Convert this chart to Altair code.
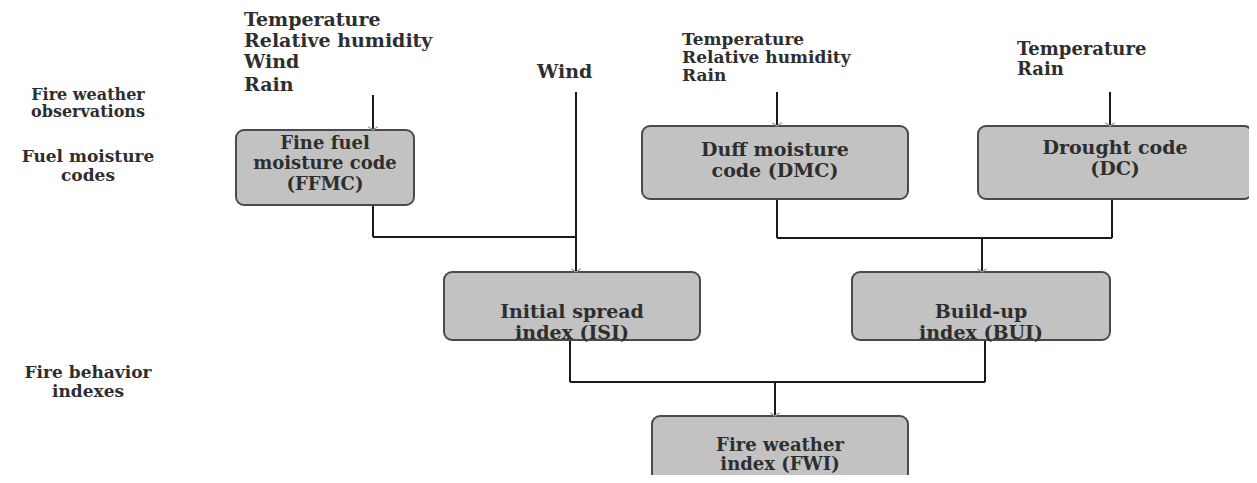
import altair as alt
import pandas as pd

# ---- boxes ----
box_id = ["FFMC", "DMC", "DC", "ISI", "BUI", "FWI"]
box_x1 = [236, 642, 978, 444, 852, 652]
box_x2 = [414, 908, 1252, 700, 1110, 908]
box_y1 = [130, 126, 126, 272, 272, 416]
box_y2 = [205, 199, 199, 340, 340, 492]

# ---- text inside boxes (one row per line) ----
lbl_text = [
    "Fine fuel", "moisture code", "(FFMC)",
    "Duff moisture", "code (DMC)",
    "Drought code", "(DC)",
    "Initial spread", "index (ISI)",
    "Build-up", "index (BUI)",
    "Fire weather", "index (FWI)",
]
lbl_x = [325, 325, 325, 775, 775, 1115, 1115, 572, 572, 981, 981, 780, 780]
lbl_y = [144, 164, 185, 150, 171, 148, 169, 312, 333, 312, 333, 446, 465]
lbl_size = [18, 18, 18, 19, 19, 19, 19, 19, 19, 19, 19, 18, 18]

# ---- input variables (left aligned) ----
in_text = ["Temperature", "Relative humidity", "Wind", "Rain",
           "Wind",
           "Temperature", "Relative humidity", "Rain",
           "Temperature", "Rain"]
in_x = [244, 244, 244, 244, 537, 682, 682, 682, 1017, 1017]
in_y = [20, 41, 62, 85, 72, 40, 58, 76, 50, 70]
in_size = [19, 19, 19, 19, 19, 17, 17, 17, 18, 18]

# ---- row headings on the left ----
side_text = ["Fire weather", "observations", "Fuel moisture", "codes",
             "Fire behavior", "indexes"]
side_x = [88, 88, 88, 88, 88, 88]
side_y = [95, 112, 157, 176, 373, 392]
side_size = [16, 16, 17, 17, 17, 17]

# ---- connector segments ----
seg_x1 = [373, 576, 373, 373, 777, 1110, 777, 1112, 777, 982, 570, 985, 570, 775]
seg_y1 = [95, 92, 205, 237, 92, 92, 199, 199, 238, 238, 340, 340, 382, 382]
seg_x2 = [373, 576, 373, 576, 777, 1110, 777, 1112, 1112, 982, 570, 985, 985, 775]
seg_y2 = [130, 272, 237, 237, 126, 126, 238, 238, 238, 272, 382, 382, 382, 416]

# ---- arrow tips ----
arr_x = [373, 576, 777, 1110, 982, 775]
arr_y = [130, 272, 126, 126, 272, 416]

boxes = pd.DataFrame({"id": box_id, "x1": box_x1, "x2": box_x2, "y1": box_y1, "y2": box_y2})
labels = pd.DataFrame({"t": lbl_text, "x": lbl_x, "y": lbl_y, "s": lbl_size})
inputs = pd.DataFrame({"t": in_text, "x": in_x, "y": in_y, "s": in_size})
sides = pd.DataFrame({"t": side_text, "x": side_x, "y": side_y, "s": side_size})
segs = pd.DataFrame({"x1": seg_x1, "y1": seg_y1, "x2": seg_x2, "y2": seg_y2})
arrows = pd.DataFrame({"x": arr_x, "y": arr_y})

W, H = 1241, 467
xs = alt.Scale(domain=[8, 8 + W], nice=False, zero=False)
ys = alt.Scale(domain=[8, 8 + H], nice=False, zero=False, reverse=True)
FONT = "DejaVu Serif"
TXT = "#2e2e2e"

rects = alt.Chart(boxes).mark_rect(
    cornerRadius=8, fill="#c2c2c2", stroke="#4a4a4a", strokeWidth=2
).encode(
    x=alt.X("x1:Q", scale=xs, axis=None), x2="x2:Q",
    y=alt.Y("y1:Q", scale=ys, axis=None), y2="y2:Q",
)

rules = alt.Chart(segs).mark_rule(color="#1a1a1a", strokeWidth=2).encode(
    x=alt.X("x1:Q", scale=xs, axis=None), x2="x2:Q",
    y=alt.Y("y1:Q", scale=ys, axis=None), y2="y2:Q",
)

heads = alt.Chart(arrows).mark_point(
    shape="M -1 -0.7 L 0 0 L 1 -0.7", filled=False, stroke="#9a9a9a",
    strokeWidth=1.2, size=90, opacity=1
).encode(
    x=alt.X("x:Q", scale=xs, axis=None),
    y=alt.Y("y:Q", scale=ys, axis=None),
)


def text_layer(df, align):
    return alt.Chart(df).mark_text(
        font=FONT, fontWeight="bold", color=TXT, align=align, baseline="middle"
    ).encode(
        x=alt.X("x:Q", scale=xs, axis=None),
        y=alt.Y("y:Q", scale=ys, axis=None),
        text="t:N",
        size=alt.Size("s:Q", scale=None, legend=None),
    )


chart = alt.layer(
    rules, rects, heads,
    text_layer(labels, "center"),
    text_layer(inputs, "left"),
    text_layer(sides, "center"),
).properties(
    width=W, height=H, padding=0,
    autosize=alt.AutoSizeParams(type="none"),
    background="white",
).configure_view(strokeWidth=0)

chart.save("out.html", embed_options={"renderer": "svg", "actions": False})
